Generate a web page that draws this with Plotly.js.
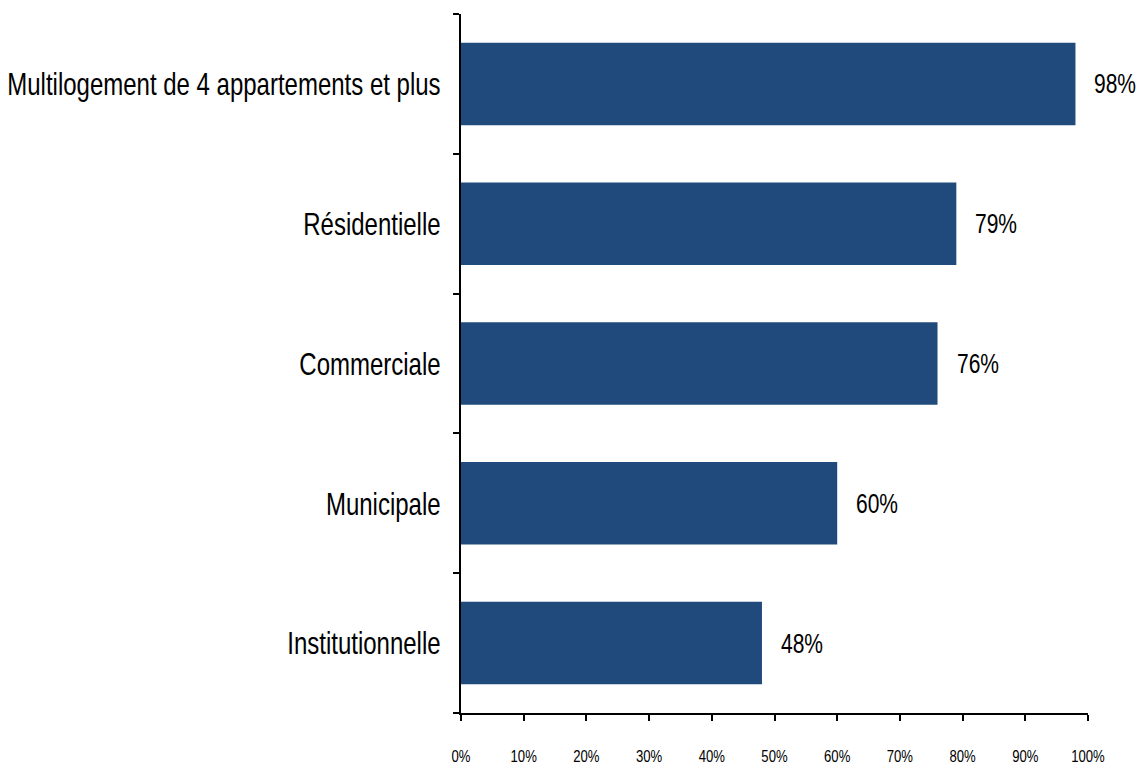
<!DOCTYPE html>
<html><head><meta charset="utf-8">
<script src="https://cdn.plot.ly/plotly-3.0.1.min.js"></script>
<style>body{margin:0;background:#fff}#c{width:1141px;height:767px}</style>
</head><body><div id="c"></div>
<script>
const categories = ["Institutionnelle","Municipale","Commerciale","Résidentielle","Multilogement de 4 appartements et plus"];
const values = [48, 60, 76, 79, 98];
const xTickVals = [0,10,20,30,40,50,60,70,80,90,100];
const xTickText = ["0%","10%","20%","30%","40%","50%","60%","70%","80%","90%","100%"];

const FONT = "'Liberation Sans', Arial, sans-serif";

const trace = {
  type: 'bar', orientation: 'h',
  x: values, y: categories,
  marker: {color: '#214a7c', line: {width: 0}},
  hoverinfo: 'none'
};

const annotations = values.map((v, i) => ({
  x: v, y: categories[i], xref: 'x', yref: 'y',
  text: v + '%', showarrow: false, xanchor: 'left', xshift: 17,
  font: {family: FONT, size: 28, color: '#000'}
}));

const layout = {
  width: 1141, height: 767,
  margin: {l: 461, r: 53, t: 14, b: 54},
  paper_bgcolor: '#fff', plot_bgcolor: '#fff',
  showlegend: false,
  bargap: 0.41,
  xaxis: {
    range: [0, 100], tickvals: xTickVals, ticktext: xTickText,
    showgrid: false, zeroline: false,
    showline: true, linecolor: '#000', linewidth: 2,
    ticks: 'outside', ticklen: 6, tickwidth: 2, tickcolor: '#000',
    ticklabelstandoff: 22,
    tickfont: {family: FONT, size: 16, color: '#000'}
  },
  yaxis: {
    showgrid: false, zeroline: false,
    showline: true, linecolor: '#000', linewidth: 2,
    ticks: 'outside', ticklen: 6, tickwidth: 2, tickcolor: '#000',
    tickson: 'boundaries',
    ticklabelstandoff: 12,
    tickfont: {family: FONT, size: 32, color: '#000'}
  },
  annotations: annotations
};

// Condense text horizontally (narrow typeface look), anchored at the proper edge
function condense(selector, sx, anchor) {
  document.querySelectorAll(selector).forEach(t => {
    const b = t.getBBox();
    const ax = anchor === 'right' ? b.x + b.width : anchor === 'left' ? b.x : b.x + b.width / 2;
    const old = t.getAttribute('transform') || '';
    t.setAttribute('transform', old + ` translate(${ax},0) scale(${sx},1) translate(${-ax},0)`);
  });
}

Plotly.newPlot('c', [trace], layout, {displayModeBar: false, staticPlot: true}).then(() => {
  condense('#c .ytick text', 0.75, 'right');
  condense('#c .xtick text', 0.82, 'center');
  condense('#c .annotation-text', 0.75, 'left');
});
</script></body></html>
